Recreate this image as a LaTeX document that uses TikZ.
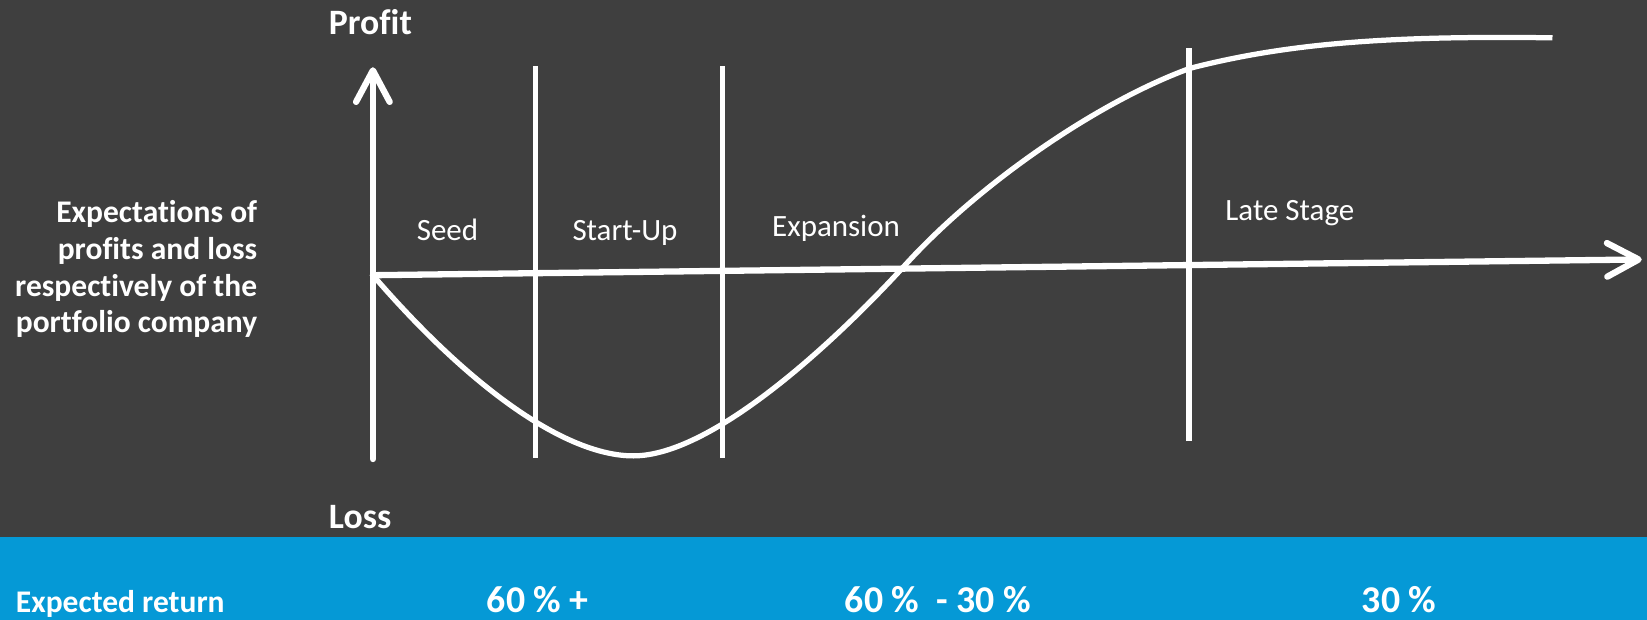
\documentclass[tikz,border=0pt]{standalone}
\usepackage{fontspec}
\setmainfont{Carlito}[Ligatures=NoCommon]
\usetikzlibrary{arrows.meta}
\definecolor{bgdark}{RGB}{63,63,63}
\definecolor{bandblue}{RGB}{5,153,214}

\begin{document}
\begin{tikzpicture}[x=1pt, y=-1pt,
    axis/.style={white, line width=6pt, line cap=round,
      -{Straight Barb[length=30pt, width=32pt, line width=6pt, round]}},
    stageline/.style={white, line width=5pt},
    curve/.style={white, line width=5pt},
    stage/.style={text=white, font=\fontsize{29.5}{35}\selectfont, anchor=base, inner sep=0pt},
    axlabel/.style={text=white, font=\bfseries\fontsize{34}{40}\selectfont, anchor=base west, inner sep=0pt},
    rate/.style={text=white, font=\bfseries\fontsize{36}{42}\selectfont, anchor=base, inner sep=0pt}]
  \useasboundingbox (0,0) rectangle (1568,590);
  \fill[bgdark] (0,0) rectangle (1568,511);
  \fill[bandblue] (0,511) rectangle (1568,590);

  % axes
  \coordinate (origin) at (355,262);
  \coordinate (ybot) at (355,437);
  \coordinate (ytop) at (355,64);
  \coordinate (xend) at (1563,247);
  \draw[axis] (ybot) -- (ytop);
  \draw[axis] (origin) -- (xend);

  % stage borders
  \foreach \name/\x/\top/\bot in {seedend/510/63/436, startend/688/63/436, expend/1132/46/420}{
    \coordinate (\name-t) at (\x,\top);
    \coordinate (\name-b) at (\x,\bot);
    \draw[stageline] (\name-b) -- (\name-t);
  }

  % profit curve
  \coordinate (low) at (603,434);
  \coordinate (cross) at (862,252);
  \coordinate (late) at (1133,65);
  \coordinate (flat) at (1478,36);
  \draw[curve] (origin) .. controls (450,372) and (540,434) .. (low)
    .. controls (680,434) and (800,320) .. (cross)
    .. controls (932,175) and (1045,97) .. (late)
    .. controls (1230,40) and (1330,34) .. (flat);

  % labels
  \node[axlabel] (profit) at (313,33) {Profit};
  \node[axlabel] (loss) at (313,503) {Loss};
  \node[text=white, font=\bfseries\fontsize{30}{35}\selectfont, align=right,
    anchor=base east, inner sep=0pt] (expect) at (245,317)
    {Expectations of\\profits and loss\\respectively of the\\portfolio company};
  \node[stage] (seed) at (426,229) {Seed};
  \node[stage] (startup) at (595,229) {Start-Up};
  \node[stage] (expansion) at (796,225) {Expansion};
  \node[stage] (latestage) at (1228,210) {Late Stage};

  % expected return band
  \node[axlabel, font=\bfseries\fontsize{30}{36}\selectfont] (retlabel) at (15,583) {Expected return};
  \node[rate] (rseed) at (512,583) {60 \% +};
  \node[rate] (rexp) at (893,583) {60 \%\ \ - 30 \%};
  \node[rate] (rlate) at (1332,583) {30 \%};
\end{tikzpicture}
\end{document}
